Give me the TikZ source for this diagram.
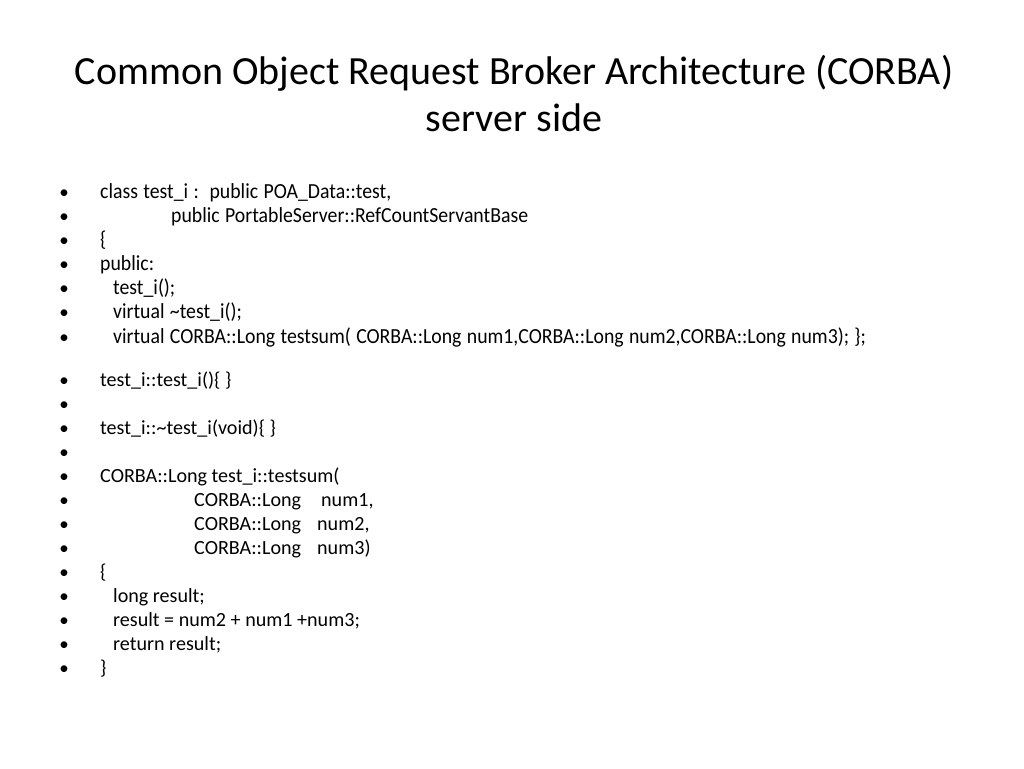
\documentclass[tikz,border=0pt]{standalone}
\usepackage{fontspec}
\setmainfont{Carlito}
\newfontfamily\narrowfont[FakeStretch=0.92,WordSpace=1.2]{Carlito}
\begin{document}
\begin{tikzpicture}[x=1pt,y=-1pt,
    title/.style={anchor=base,inner sep=0pt,font=\fontsize{40}{48}\selectfont},
    code/.style={anchor=base west,inner sep=0pt,font=\fontsize{20.1}{24}\selectfont},
    narrow/.style={anchor=base west,inner sep=0pt,font=\fontsize{21.5}{25}\narrowfont},
    bul/.style={anchor=base,inner sep=0pt,font=\fontsize{19}{23}\selectfont}]
  \pgfmathsetmacro{\h}{24.17}
  \pgfmathsetmacro{\ya}{198}
  \pgfmathsetmacro{\yb}{386}
  \useasboundingbox[fill=white] (0,0) rectangle (1024,768);

  \node[title] (T1) at (514,84) {Common Object Request Broker Architecture (CORBA)};
  \node[title] (T2) at (514,131) {server side};

  % bullets
  \foreach \i in {0,...,6}
    \node[bul] (pa\i) at (64,\ya+\i*\h) {•};
  \foreach \i in {0,...,12}
    \node[bul] (pb\i) at (64,\yb+\i*24) {•};

  % class declaration
  \node[narrow] (A0) at (100,\ya) {class test\_i :\ \ public POA\_Data::test,};
  \node[narrow] (A1) at (171,\ya+\h) {public PortableServer::RefCountServantBase};
  \node[narrow] (A2) at (100,\ya+2*\h) {\{};
  \node[narrow] (A3) at (100,\ya+3*\h) {public:};
  \node[narrow] (A4) at (113,\ya+4*\h) {test\_i();};
  \node[narrow] (A5) at (113,\ya+5*\h) {virtual \textasciitilde test\_i();};
  \node[narrow] (A6) at (113,\ya+6*\h) {virtual CORBA::Long testsum( CORBA::Long num1,CORBA::Long num2,CORBA::Long num3); \};};

  % definitions
  \node[code] (B0) at (100,\yb) {test\_i::test\_i()\{ \}};
  \node[code] (B2) at (100,\yb+2*24) {test\_i::\textasciitilde test\_i(void)\{ \}};
  \node[code] (B4) at (100,\yb+4*24) {CORBA::Long test\_i::testsum(};
  \node[code] (B5) at (194,\yb+5*24) {CORBA::Long\hspace{20pt}num1,};
  \node[code] (B6) at (194,\yb+6*24) {CORBA::Long\hspace{16pt}num2,};
  \node[code] (B7) at (194,\yb+7*24) {CORBA::Long\hspace{16pt}num3)};
  \node[code] (B8) at (100,\yb+8*24) {\{};
  \node[code] (B9) at (113,\yb+9*24) {long result;};
  \node[code] (B10) at (113,\yb+10*24) {result = num2 + num1 +num3;};
  \node[code] (B11) at (113,\yb+11*24) {return result;};
  \node[code] (B12) at (100,\yb+12*24) {\}};
\end{tikzpicture}
\end{document}
